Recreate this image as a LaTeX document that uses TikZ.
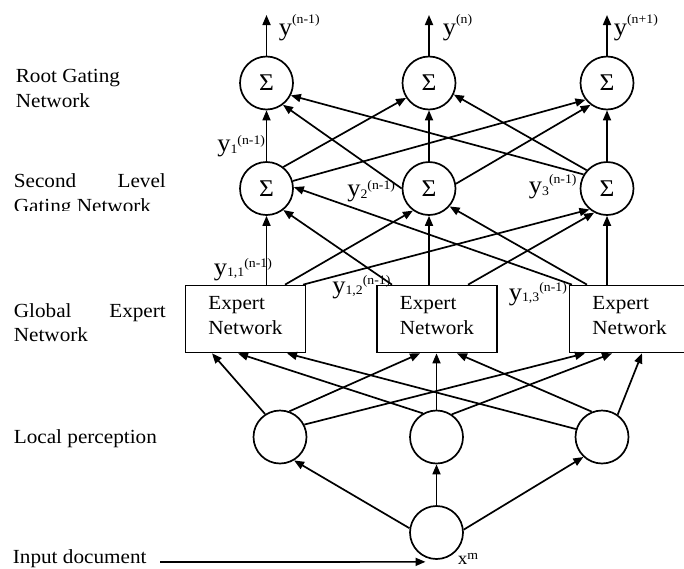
\documentclass[tikz,border=0pt]{standalone}
\usepackage{fontspec}
\setmainfont{Liberation Serif}[FakeStretch=1.06]
\usetikzlibrary{arrows.meta,calc}
\newcommand{\myup}[2]{\raisebox{#1}{\fontsize{13}{13}\selectfont #2}}
\begin{document}
\begin{tikzpicture}[x=1pt,y=-1pt,
  line width=1.7pt,
  arr/.style={-{Triangle[length=10pt,width=8pt]}},
  sig/.style={circle,draw,minimum size=53pt,inner sep=0pt,font=\fontsize{24}{24}\selectfont},
  loc/.style={circle,draw,minimum size=53pt,inner sep=0pt},
  ebox/.style={rectangle,draw,minimum width=120pt,minimum height=67pt,inner sep=0pt},
  etxt/.style={align=left,font=\fontsize{20}{25}\selectfont,inner sep=0pt},
  lbl/.style={anchor=base west,inner sep=0pt,font=\fontsize{20}{24}\selectfont},
  ylbl/.style={anchor=base west,inner sep=0pt,font=\fontsize{25}{25}\selectfont},
]
\useasboundingbox (0,0) rectangle (684,568);
\clip (0,0) rectangle (684,568);

% left labels
\node[lbl] (t1) at (15,82) {Root Gating};
\node[lbl] (t2) at (15,107) {Network};
\node[lbl] (t3) at (13,187) {\makebox[152pt][s]{Second Level}};
\begin{scope}
\clip (0,0) rectangle (200,210.5);
\node[lbl] (t4) at (13,212) {Gating Network};
\end{scope}
\node[lbl] (t5) at (13,317) {\makebox[152pt][s]{Global Expert}};
\node[lbl] (t6) at (13,341) {Network};
\node[lbl] (t7) at (13,443) {Local perception};
\node[lbl] (t8) at (12,563.5) {Input document};

% root gating
\node[sig] (R1) at (266.5,83) {Σ};
\node[sig] (R2) at (429,83) {Σ};
\node[sig] (R3) at (607,83) {Σ};
% second level
\node[sig] (S1) at (266.5,188.5) {Σ};
\node[sig] (S2) at (429,188.5) {Σ};
\node[sig] (S3) at (607,188.5) {Σ};
% experts
\node[ebox] (E1) at (245.5,319) {};
\node[ebox] (E2) at (437,319) {};
\node[ebox] (E3) at (629.5,319) {};
\node[etxt] (E1t) at (E1) {Expert\\Network\strut};
\node[etxt] (E2t) at (E2) {Expert\\Network\strut};
\node[etxt] (E3t) at (E3) {Expert\\Network\strut};
% local perception
\node[loc] (L1) at (280,437) {};
\node[loc] (L2) at (436.5,437) {};
\node[loc] (L3) at (602,437) {};
% input
\node[loc] (X) at (436.5,532.5) {};

% outputs
\coordinate (T1) at (266.5,15);
\coordinate (T2) at (429,15);
\coordinate (T3) at (607,15);
\draw[arr] (R1.north) -- (T1);
\draw[arr] (R2.north) -- (T2);
\draw[arr] (R3.north) -- (T3);
\node[ylbl] (yo1) at (278,35) {y\myup{12pt}{(n-1)}};
\node[ylbl] (yo2) at (442,35) {y\myup{12pt}{(n)}};
\node[ylbl] (yo3) at (613,35) {y\myup{12pt}{(n+1)}};

% second level -> root
\draw[arr] (S1.north) -- (R1.south);
\draw[arr] (S2.north) -- (R2.south);
\draw[arr] (S3.north) -- (R3.south);
\draw[arr] (S2.180) -- (R1.307);
\draw[arr] (S3.149) -- (R1.333);
\draw[arr] (S1.52) -- (R2.213);
\draw[arr] (S3.138) -- (R2.335);
\draw[arr] (S1.16) -- (R3.218);
\draw[arr] (S2.10) -- (R3.233);

% experts -> second level
\draw[arr] ([xshift=21pt]E1.north) -- (S1.south);
\draw[arr] ([xshift=-8pt]E2.north) -- (S2.south);
\draw[arr] ([xshift=-22.5pt]E3.north) -- (S3.south);
\draw[arr] ([xshift=-45pt]E2.north) -- (S1.308);
\draw[arr] ([xshift=-57.5pt]E3.north) -- (S1.3);
\draw[arr] ([xshift=39.5pt]E1.north) -- (S2.234);
\draw[arr] ([xshift=-42.5pt]E3.north) -- (S2.319);
\draw[arr] ([xshift=57.5pt]E1.north) -- (S3.230);
\draw[arr] ([xshift=31pt]E2.north) -- (S3.242);

% local -> experts
\draw[arr] (L1.123) -- ([xshift=-33.5pt]E1.south);
\draw[arr] (L1.70) -- ([xshift=-17pt]E2.south);
\draw[arr] (L1.27) -- ([xshift=-44.5pt]E3.south);
\draw[arr] (L2.120) -- ([xshift=-7.5pt]E1.south);
\draw[arr] (L2.north) -- (L2.north |- E2.south);
\draw[arr] (L2.56) -- ([xshift=-17.5pt]E3.south);
\draw[arr] (L3.163) -- ([xshift=41.5pt]E1.south);
\draw[arr] (L3.112) -- ([xshift=20pt]E2.south);
\draw[arr] (L3.55) -- ([xshift=12.5pt]E3.south);

% input -> local
\draw[arr] (X.171) -- (L1.301);
\draw[arr] (X.north) -- (L2.south);
\draw[arr] (X.6) -- (L3.227);

% input document arrow
\coordinate (IN0) at (160,562);
\coordinate (IN1) at ($(X.south)+(-11,2)$);
\draw[arr] (IN0) -- (IN1);
\node[anchor=base west,inner sep=0pt,font=\fontsize{18}{18}\selectfont] (xm) at (457,564) {x\myup{5pt}{m}};

% intermediate labels
\node[ylbl] (y1) at (216.5,151) {y\myup{-2pt}{1}\myup{7pt}{(n-1)}};
\node[ylbl] (y2) at (346.5,196) {y\myup{-2pt}{2}\myup{7pt}{(n-1)}};
\node[ylbl] (y3) at (528,193) {y\myup{-2pt}{3}\myup{10pt}{(n-1)}};
\node[ylbl] (y11) at (213,275) {y\myup{-1pt}{1,1}\myup{8pt}{(n-1)}};
\node[ylbl] (y12) at (331.5,293) {y\myup{-1pt}{1,2}\myup{9pt}{(n-1)}};
\node[ylbl] (y13) at (508,300) {y\myup{-1pt}{1,3}\myup{9pt}{(n-1)}};
\end{tikzpicture}
\end{document}
